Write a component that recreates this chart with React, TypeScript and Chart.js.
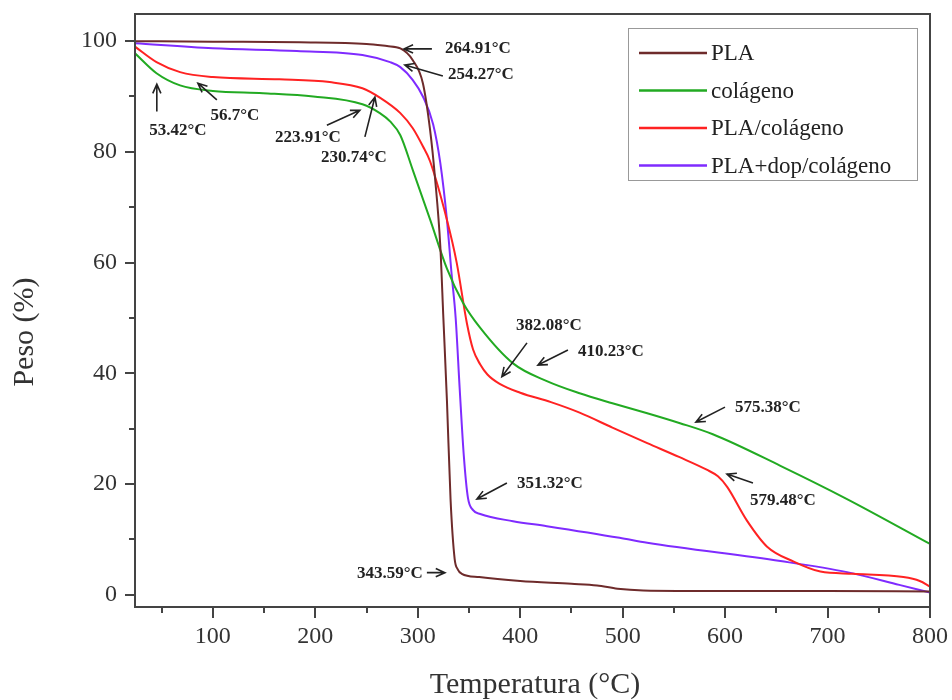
import React, { useEffect, useRef } from 'react';
import { Chart, registerables } from 'chart.js';

Chart.register(...registerables);

// ---------- data ----------
const SERIES_LABELS = ['PLA', 'colágeno', 'PLA/colágeno', 'PLA+dop/colágeno'];
const SERIES_COLORS = ['#6e2b2b', '#22aa22', '#ff2222', '#7f2bff'];

const PLA_T = [24, 100, 185, 250, 270, 283, 295, 305, 312, 317, 322, 325, 328.5, 332, 336, 339, 343, 360, 400, 450, 475, 495, 520, 600, 700, 800];
const PLA_W = [100, 99.9, 99.8, 99.5, 99.1, 98.7, 96.6, 92.4, 84, 75, 63, 50, 35, 17.3, 6.5, 4.6, 3.8, 3.2, 2.5, 2.0, 1.7, 1.1, 0.8, 0.7, 0.7, 0.6];

const COL_T = [24, 45, 68, 100, 149, 198, 246, 263, 273, 283, 295, 312, 328.5, 344, 361, 393, 426, 458, 490, 524, 556, 588, 654, 719, 800];
const COL_W = [97.8, 94.2, 92, 91, 90.6, 90, 88.6, 87, 85.5, 83, 76.8, 67.8, 58.9, 52.8, 48.2, 41.8, 38.6, 36.4, 34.6, 32.8, 31, 29, 23.3, 17.3, 9.2];

const PC_T = [24, 45, 68, 100, 165, 214, 246, 263, 283, 295, 305, 312, 328.5, 338, 348, 354, 361, 368, 380, 400, 430, 458, 490, 524, 555, 582, 593, 602, 621, 641, 667, 693, 725, 774, 790, 800];
const PC_W = [99, 96.2, 94.4, 93.5, 93.1, 92.6, 91.5, 89.8, 87, 84.3, 81, 78.3, 67.7, 60, 49, 44.3, 41.6, 39.8, 38.1, 36.5, 34.8, 32.9, 30.2, 27.4, 24.9, 22.6, 21.4, 19.5, 13.5, 8.7, 6, 4.2, 3.8, 3.2, 2.5, 1.5];

const PD_T = [24, 100, 182, 246, 273, 283, 295, 305, 315, 322, 328.5, 333, 337, 341, 345, 349, 354, 361, 393, 426, 497, 524, 654, 719, 770, 800];
const PD_W = [99.6, 98.7, 98.2, 97.5, 96.2, 95.3, 93, 90, 85, 78, 67.7, 58, 50, 37, 25, 17.5, 15.3, 14.6, 13.3, 12.4, 10.3, 9.4, 6.1, 4.1, 1.8, 0.4];

const SERIES_T = [PLA_T, COL_T, PC_T, PD_T];
const SERIES_W = [PLA_W, COL_W, PC_W, PD_W];

const X_TICKS = [50, 100, 150, 200, 250, 300, 350, 400, 450, 500, 550, 600, 650, 700, 750, 800];
const X_LABELED = [100, 200, 300, 400, 500, 600, 700, 800];
const Y_TICKS = [0, 10, 20, 30, 40, 50, 60, 70, 80, 90, 100];
const Y_LABELED = [0, 20, 40, 60, 80, 100];

const X_TITLE = 'Temperatura (°C)';
const Y_TITLE = 'Peso (%)';

// annotations in data units: text anchor (tx,ty), arrow tail (ax,ay) -> tip (bx,by)
const ANNOTATIONS = [
  { text: '264.91°C', tx: 326.5, ty: 98.6, align: 'left', ax: 313.8, ay: 98.6, bx: 286.5, by: 98.6 },
  { text: '254.27°C', tx: 329.4, ty: 93.9, align: 'left', ax: 324.5, ay: 93.7, bx: 287.4, by: 95.7 },
  { text: '53.42°C', tx: 65.8, ty: 83.9, align: 'center', ax: 45.3, ay: 87.3, bx: 45.3, by: 92.2 },
  { text: '56.7°C', tx: 121.5, ty: 86.6, align: 'center', ax: 103.9, ay: 89.4, bx: 85.4, by: 92.4 },
  { text: '223.91°C', tx: 192.7, ty: 82.5, align: 'center', ax: 211.3, ay: 84.8, bx: 243.5, by: 87.5 },
  { text: '230.74°C', tx: 237.7, ty: 78.9, align: 'center', ax: 248.4, ay: 82.7, bx: 258.2, by: 89.9 },
  { text: '382.08°C', tx: 428, ty: 48.7, align: 'center', ax: 406.6, ay: 45.5, bx: 382.1, by: 39.4 },
  { text: '410.23°C', tx: 456.3, ty: 43.9, align: 'left', ax: 446.6, ay: 44.2, bx: 417.3, by: 41.5 },
  { text: '575.38°C', tx: 609.6, ty: 33.8, align: 'left', ax: 599.9, ay: 33.9, bx: 571.5, by: 31.2 },
  { text: '579.48°C', tx: 624.3, ty: 17.1, align: 'left', ax: 627.2, ay: 20.2, bx: 601.8, by: 21.8 },
  { text: '351.32°C', tx: 396.8, ty: 20.0, align: 'left', ax: 387, ay: 20.2, bx: 357.7, by: 17.3 },
  { text: '343.59°C', tx: 305, ty: 3.8, align: 'right', ax: 308.9, ay: 4.0, bx: 326.5, by: 4.0 },
];

const SERIF = '"Liberation Serif", "Times New Roman", serif';

function drawArrow(ctx: CanvasRenderingContext2D, x1: number, y1: number, x2: number, y2: number) {
  const ang = Math.atan2(y2 - y1, x2 - x1);
  const hl = 10;
  const spread = 0.42;
  ctx.beginPath();
  ctx.moveTo(x1, y1);
  ctx.lineTo(x2, y2);
  ctx.moveTo(x2 - hl * Math.cos(ang - spread), y2 - hl * Math.sin(ang - spread));
  ctx.lineTo(x2, y2);
  ctx.lineTo(x2 - hl * Math.cos(ang + spread), y2 - hl * Math.sin(ang + spread));
  ctx.stroke();
}

const decorPlugin = {
  id: 'decor',
  afterDraw(chart: any) {
    const { ctx, chartArea: ca, scales } = chart;
    const xs = scales.x;
    const ys = scales.y;
    ctx.save();

    // frame
    ctx.strokeStyle = '#444';
    ctx.lineWidth = 2;
    ctx.strokeRect(ca.left, ca.top, ca.right - ca.left, ca.bottom - ca.top);

    // tick marks (outward)
    ctx.beginPath();
    for (const v of Y_TICKS) {
      const y = Math.round(ys.getPixelForValue(v));
      const len = Y_LABELED.includes(v) ? 10 : 6;
      ctx.moveTo(ca.left - len, y);
      ctx.lineTo(ca.left, y);
    }
    for (const v of X_TICKS) {
      const x = Math.round(xs.getPixelForValue(v));
      const len = X_LABELED.includes(v) ? 11 : 6;
      ctx.moveTo(x, ca.bottom);
      ctx.lineTo(x, ca.bottom + len);
    }
    ctx.stroke();

    // axis titles
    ctx.fillStyle = '#333';
    ctx.font = `30px ${SERIF}`;
    ctx.textAlign = 'center';
    ctx.textBaseline = 'alphabetic';
    ctx.fillText(X_TITLE, 535, 693);
    ctx.save();
    ctx.translate(33, 332);
    ctx.rotate(-Math.PI / 2);
    ctx.fillText(Y_TITLE, 0, 0);
    ctx.restore();

    // legend
    const lx = 628, ly = 28, lw = 289, lh = 152;
    ctx.fillStyle = '#fff';
    ctx.fillRect(lx, ly, lw, lh);
    ctx.strokeStyle = '#999';
    ctx.lineWidth = 1;
    ctx.strokeRect(lx + 0.5, ly + 0.5, lw, lh);
    ctx.font = `23px ${SERIF}`;
    ctx.textAlign = 'left';
    ctx.textBaseline = 'middle';
    SERIES_LABELS.forEach((lab, i) => {
      const yy = 53 + i * 37.5;
      ctx.strokeStyle = SERIES_COLORS[i];
      ctx.lineWidth = 2.5;
      ctx.beginPath();
      ctx.moveTo(639, yy);
      ctx.lineTo(707, yy);
      ctx.stroke();
      ctx.fillStyle = '#222';
      ctx.fillText(lab, 711, yy + 1);
    });

    // annotations
    ctx.strokeStyle = '#222';
    ctx.fillStyle = '#222';
    ctx.lineWidth = 1.6;
    ctx.font = `bold 17px ${SERIF}`;
    ctx.textBaseline = 'middle';
    for (const a of ANNOTATIONS) {
      drawArrow(
        ctx,
        xs.getPixelForValue(a.ax), ys.getPixelForValue(a.ay),
        xs.getPixelForValue(a.bx), ys.getPixelForValue(a.by)
      );
      ctx.textAlign = a.align as CanvasTextAlign;
      ctx.fillText(a.text, xs.getPixelForValue(a.tx), ys.getPixelForValue(a.ty));
    }

    ctx.restore();
  },
};

function zeroPad(s: any) {
  s.paddingTop = 0;
  s.paddingBottom = 0;
  s.paddingLeft = 0;
  s.paddingRight = 0;
}

export default function App() {
  const ref = useRef<HTMLCanvasElement | null>(null);

  useEffect(() => {
    if (!ref.current) return;
    const datasets = SERIES_LABELS.map((label, i) => ({
      label,
      data: SERIES_T[i].map((t, j) => ({ x: t, y: SERIES_W[i][j] })),
      borderColor: SERIES_COLORS[i],
      backgroundColor: SERIES_COLORS[i],
      borderWidth: 2,
      pointRadius: 0,
      fill: false,
      cubicInterpolationMode: 'monotone' as const,
    }));
    const chart = new Chart(ref.current, {
      type: 'line',
      data: { datasets },
      options: {
        responsive: false,
        animation: false,
        layout: { padding: { top: 14, right: 22, left: 0, bottom: 0 } },
        plugins: { legend: { display: false }, tooltip: { enabled: false } },
        scales: {
          x: {
            type: 'linear',
            min: 24,
            max: 800,
            afterBuildTicks: (s: any) => { s.ticks = X_TICKS.map((v) => ({ value: v })); },
            afterFit: (s: any) => { s.height = 93; zeroPad(s); },
            grid: { display: false, drawTicks: false },
            border: { display: false },
            ticks: {
              autoSkip: false,
              maxRotation: 0,
              padding: 15,
              color: '#333',
              font: { family: SERIF, size: 24 },
              callback: (v: any) => (X_LABELED.includes(Number(v)) ? String(v) : ''),
            },
          },
          y: {
            type: 'linear',
            min: -2.2,
            max: 104.9,
            afterBuildTicks: (s: any) => { s.ticks = Y_TICKS.map((v) => ({ value: v })); },
            afterFit: (s: any) => { s.width = 135; zeroPad(s); },
            grid: { display: false, drawTicks: false },
            border: { display: false },
            ticks: {
              autoSkip: false,
              padding: 18,
              color: '#333',
              font: { family: SERIF, size: 24 },
              callback: (v: any) => (Y_LABELED.includes(Number(v)) ? String(v) : ''),
            },
          },
        },
      },
      plugins: [decorPlugin],
    });
    return () => chart.destroy();
  }, []);

  return (
    <div style={{ position: 'fixed', left: 0, top: 0, width: 952, height: 700, background: '#fff' }}>
      <canvas ref={ref} width={952} height={700} style={{ display: 'block' }} />
    </div>
  );
}
